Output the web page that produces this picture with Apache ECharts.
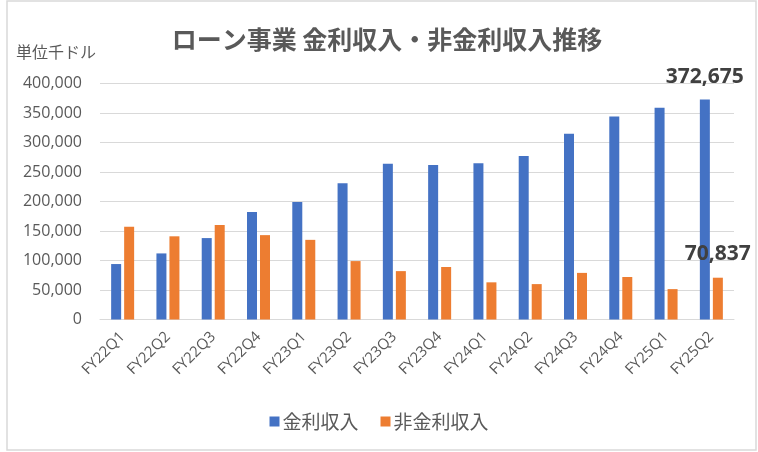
<!DOCTYPE html>
<html>
<head>
<meta charset="utf-8">
<script src="https://cdn.jsdelivr.net/npm/echarts@6/dist/echarts.min.js"></script>
<style>
  html, body { margin: 0; padding: 0; background: #fff; }
  #chart { width: 758px; height: 452px; }
</style>
</head>
<body>
<div id="chart"></div>
<script>
const quarters = ["FY22Q1", "FY22Q2", "FY22Q3", "FY22Q4", "FY23Q1", "FY23Q2", "FY23Q3",
  "FY23Q4", "FY24Q1", "FY24Q2", "FY24Q3", "FY24Q4", "FY25Q1", "FY25Q2"];
const interestIncome = [94000, 112000, 138000, 182000, 199000, 231000, 264000,
  262000, 265000, 277000, 315000, 344000, 359000, 372675];
const nonInterestIncome = [157000, 141000, 160000, 143000, 135000, 99000, 82000,
  89000, 63000, 60000, 79000, 72000, 51500, 70837];
const seriesNames = ["金利収入", "非金利収入"];
const yTicks = { min: 0, max: 400000, interval: 50000 };

const textColor = "#595959";
const fontStack = "'Open Sans', 'Noto Sans CJK JP', sans-serif";

// only the latest quarter gets a value label
function withLastLabel(values, distance) {
  return values.map((v, i) =>
    i === values.length - 1
      ? {
          value: v,
          label: {
            show: true,
            position: "top",
            distance: distance,
            fontSize: 21,
            fontWeight: "bold",
            color: "#404040",
            fontFamily: fontStack,
            formatter: (p) => p.value.toLocaleString("en-US")
          }
        }
      : v
  );
}

const chart = echarts.init(document.getElementById("chart"));

chart.setOption({
  animation: false,
  backgroundColor: "#fff",
  graphic: [
    {
      type: "rect",
      shape: { x: 7, y: 1, width: 749, height: 449 },
      style: { fill: "none", stroke: "#d9d9d9", lineWidth: 1.5 },
      silent: true
    },
    {
      type: "text",
      left: 16,
      top: 44,
      style: { text: "単位千ドル", fontSize: 16, fill: textColor, fontFamily: "'Noto Sans CJK JP', sans-serif" }
    }
  ],
  title: {
    text: "ローン事業 金利収入・非金利収入推移",
    left: 382,
    textAlign: "center",
    top: 22,
    textStyle: {
      fontSize: 25,
      fontWeight: "bold",
      color: textColor,
      fontFamily: "'Noto Sans CJK JP', sans-serif"
    }
  },
  legend: {
    data: seriesNames,
    left: "center",
    top: 407,
    itemWidth: 10,
    itemHeight: 10,
    itemGap: 22,
    icon: "rect",
    textStyle: {
      fontSize: 19,
      color: textColor,
      padding: [0, 0, 0, -2],
      fontFamily: "'Noto Sans CJK JP', sans-serif"
    }
  },
  grid: { left: 100, right: 24, top: 83.5, bottom: 132.5 },
  xAxis: {
    type: "category",
    data: quarters,
    axisLine: { lineStyle: { color: "#d9d9d9", width: 1 } },
    axisTick: { show: false },
    axisLabel: {
      rotate: 45,
      interval: 0,
      margin: 15,
      fontSize: 15,
      color: textColor,
      fontFamily: fontStack
    }
  },
  yAxis: {
    type: "value",
    min: yTicks.min,
    max: yTicks.max,
    interval: yTicks.interval,
    axisLine: { show: false },
    axisTick: { show: false },
    splitLine: { lineStyle: { color: "#d9d9d9", width: 1 } },
    axisLabel: {
      margin: 18,
      fontSize: 16,
      color: textColor,
      fontFamily: fontStack,
      formatter: (v) => v.toLocaleString("en-US")
    }
  },
  series: [
    {
      name: seriesNames[0],
      type: "bar",
      data: withLastLabel(interestIncome, 12),
      barWidth: 10,
      barGap: "30%",
      itemStyle: { color: "#4472C4" }
    },
    {
      name: seriesNames[1],
      type: "bar",
      data: withLastLabel(nonInterestIncome, 13),
      barWidth: 10,
      itemStyle: { color: "#ED7D31" }
    }
  ]
});
</script>
</body>
</html>
